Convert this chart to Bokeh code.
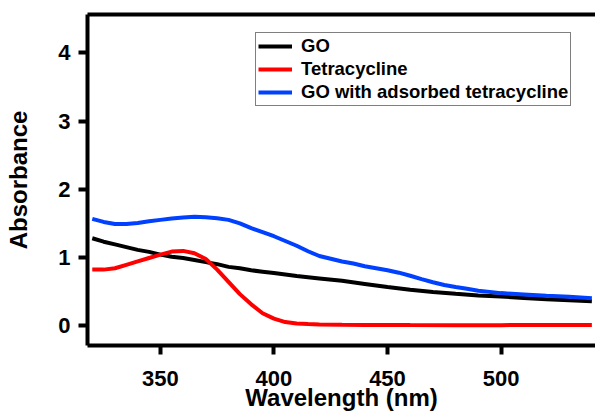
from bokeh.plotting import figure
from bokeh.models import Range1d, LinearAxis, FixedTicker, Legend, LegendItem
from bokeh.embed import file_html
from bokeh.resources import INLINE

# Data
wl_tc = [320, 325, 330, 335, 340, 345, 350, 355, 360, 365, 370, 375, 380, 385, 390,
         395, 400, 405, 410, 415, 420, 430, 440, 460, 480, 500, 520, 540]
abs_tc = [0.82, 0.82, 0.84, 0.89, 0.94, 0.99, 1.04, 1.085, 1.095, 1.06, 0.975, 0.82, 0.64, 0.46, 0.31,
          0.18, 0.10, 0.05, 0.03, 0.02, 0.015, 0.01, 0.008, 0.006, 0.005, 0.005, 0.006, 0.008]

wl_go = [320, 325, 330, 335, 340, 345, 350, 355, 360, 365, 370, 375, 380, 385, 390, 395,
         400, 410, 420, 430, 440, 450, 460, 470, 480, 490, 500, 510, 520, 530, 540]
abs_go = [1.28, 1.23, 1.19, 1.15, 1.11, 1.08, 1.04, 1.01, 0.99, 0.96, 0.93, 0.90, 0.86, 0.84, 0.81, 0.79,
          0.77, 0.725, 0.69, 0.655, 0.61, 0.565, 0.525, 0.493, 0.465, 0.44, 0.425, 0.405, 0.385, 0.37, 0.356]

wl_gotc = [320, 325, 330, 335, 340, 345, 350, 355, 360, 365, 370, 375, 380, 385, 390, 395,
           400, 405, 410, 415, 420, 425, 430, 435, 440, 445, 450, 455, 460, 465, 470, 475,
           480, 485, 490, 500, 510, 520, 530, 540]
abs_gotc = [1.565, 1.52, 1.49, 1.49, 1.505, 1.53, 1.55, 1.57, 1.585, 1.595, 1.59, 1.575, 1.55, 1.50, 1.43, 1.37,
            1.31, 1.24, 1.17, 1.09, 1.02, 0.98, 0.94, 0.91, 0.87, 0.84, 0.81, 0.775, 0.73, 0.68, 0.635, 0.595,
            0.565, 0.54, 0.51, 0.475, 0.455, 0.435, 0.42, 0.40]

x_ticks = [350, 400, 450, 500]
y_ticks = [0, 1, 2, 3, 4]
labels = ["GO", "Tetracycline", "GO with adsorbed tetracycline"]

FONT = "Liberation Sans"

p = figure(width=595, height=414, output_backend="svg", toolbar_location=None,
           x_range=Range1d(317.9, 541.6), y_range=Range1d(-0.294, 4.565),
           min_border_left=87, min_border_right=0, min_border_top=14, min_border_bottom=69,
           x_axis_label="Wavelength (nm)", y_axis_label="Absorbance")
p.outline_line_color = None
p.grid.visible = False
p.background_fill_color = "white"
p.border_fill_color = "white"

r_go = p.line(wl_go, abs_go, line_color="black", line_width=4)
r_tc = p.line(wl_tc, abs_tc, line_color="#ff0000", line_width=4)
r_gotc = p.line(wl_gotc, abs_gotc, line_color="#0040ff", line_width=4)

for ax in (p.xaxis[0], p.yaxis[0]):
    ax.axis_line_width = 4
    ax.major_tick_line_width = 4
    ax.major_tick_in = 0
    ax.major_tick_out = 9
    ax.minor_tick_line_color = None
    ax.major_label_text_font = FONT
    ax.major_label_text_font_style = "bold"
    ax.major_label_text_font_size = "22px"
    ax.major_label_text_color = "black"
    ax.axis_label_text_font = FONT
    ax.axis_label_text_font_style = "bold"
    ax.axis_label_text_font_size = "24px"
    ax.axis_label_text_color = "black"

p.xaxis[0].ticker = FixedTicker(ticks=x_ticks)
p.yaxis[0].ticker = FixedTicker(ticks=y_ticks)
p.xaxis[0].major_label_standoff = 16
p.xaxis[0].axis_label_standoff = -5
p.yaxis[0].major_label_standoff = 8
p.yaxis[0].axis_label_standoff = 23

top = LinearAxis(ticker=FixedTicker(ticks=[]), axis_line_width=4,
                 major_tick_line_color=None, minor_tick_line_color=None,
                 major_label_text_font_size="0px")
top.major_tick_out = 0
top.major_tick_in = 0
p.add_layout(top, "above")

legend = Legend(items=[LegendItem(label=labels[0], renderers=[r_go]),
                       LegendItem(label=labels[1], renderers=[r_tc]),
                       LegendItem(label=labels[2], renderers=[r_gotc])],
                location=(168, 239))
legend.label_text_font = FONT
legend.label_text_font_style = "bold"
legend.label_text_font_size = "18.5px"
legend.label_text_color = "black"
legend.glyph_width = 34
legend.glyph_height = 20
legend.label_height = 20
legend.spacing = 1
legend.padding = 2
legend.margin = 0
legend.label_standoff = 9
legend.border_line_color = "black"
legend.border_line_width = 1
legend.background_fill_alpha = 1.0
p.add_layout(legend, "center")

open("out.html", "w").write(file_html(p, INLINE))
